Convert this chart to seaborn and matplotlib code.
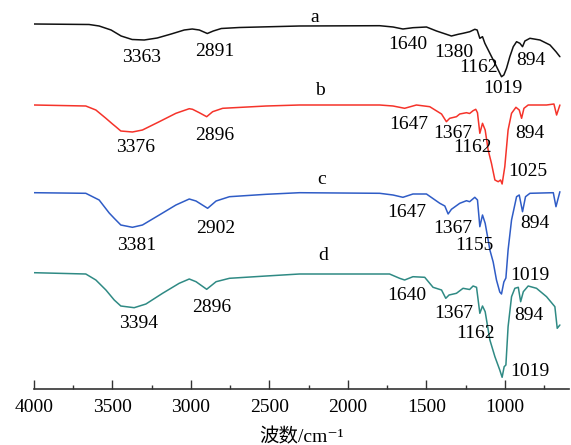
import numpy as np
import pandas as pd
import matplotlib
matplotlib.use("Agg")
import matplotlib.pyplot as plt
from matplotlib.ticker import MultipleLocator
import seaborn as sns

# wavenumber (cm-1) and stacked transmittance (a.u.)
wn_a = [4000, 3649, 3585, 3509, 3445, 3375, 3298, 3215, 3126, 3043, 2992, 2947, 2896, 2858, 2807, 2692, 2309,
        1798, 1713, 1650, 1586, 1500, 1436, 1373, 1341, 1298, 1267, 1224, 1192, 1177, 1160, 1143, 1128, 1096,
        1064, 1043, 1022, 1007, 990, 969, 947, 926, 905, 888, 873, 841, 777, 713, 675, 650]
t_a = [365, 364.5, 363, 359, 353, 349.5, 349, 351, 355, 359, 360, 359, 355.5, 358, 360.5, 361.5, 363,
       363.3, 362, 360, 361.3, 362, 358, 354.7, 353, 354.7, 355.7, 357.3, 359.7, 359, 350.7, 352.3, 345.7, 335.7,
       325.7, 319, 312.3, 314, 320.7, 332.3, 342.3, 347.3, 345.7, 342.3, 348, 350.7, 349, 344, 337.3, 332.3]

wn_b = [4000, 3670, 3606, 3542, 3500, 3479, 3447, 3373, 3309, 3202, 3096, 3011, 2990, 2947, 2900, 2862, 2798,
        2521, 2309, 1798, 1713, 1639, 1564, 1479, 1404, 1373, 1352, 1309, 1288, 1245, 1225, 1203, 1186, 1175, 1160,
        1143, 1126, 1107, 1086, 1064, 1043, 1028, 1018, 1001, 980, 958, 930, 909, 894, 879, 852, 735, 688, 671, 650]
t_b = [284, 283, 279, 270.7, 265, 262.3, 258, 257, 259, 267.3, 275.7, 280.3, 279.7, 276.3, 272.3, 277.3, 280.7,
       283, 284, 284, 283, 280.7, 284, 282.3, 275, 267.3, 270.7, 272.3, 275, 276.3, 275.5, 278.3, 279.7, 276.3, 255.7,
       265.7, 259, 239, 225.7, 209, 207.3, 209, 205, 222.3, 259, 275.7, 281.7, 279, 270.7, 280.7, 284, 284, 285, 274, 284]

wn_c = [4000, 3670, 3585, 3521, 3489, 3447, 3373, 3309, 3202, 3096, 3011, 2968, 2894, 2840, 2755, 2521, 2309,
        1798, 1713, 1650, 1586, 1500, 1415, 1383, 1362, 1341, 1288, 1245, 1225, 1192, 1175, 1160, 1143, 1126, 1107,
        1096, 1075, 1054, 1033, 1022, 1007, 994, 980, 958, 926, 909, 888, 869, 841, 692, 675, 650]
t_c = [196.3, 195.7, 189, 176, 170.7, 164, 161.7, 164, 174, 184, 190, 188, 180.7, 188, 192.3, 194.7, 196.3,
       195.7, 194, 191.7, 195, 195, 185.7, 183, 175, 179.7, 185.7, 188.3, 187.3, 191.7, 189, 162.3, 174, 165.7, 149,
       139, 127, 109, 97, 95, 107, 111, 139, 169, 192.3, 194, 177.3, 192.3, 195.7, 196.3, 182.3, 197.3]

wn_d = [4000, 3670, 3606, 3542, 3489, 3447, 3362, 3287, 3181, 3075, 3011, 2968, 2900, 2840, 2755, 2521, 2309,
        1735, 1671, 1639, 1586, 1511, 1458, 1404, 1377, 1356, 1309, 1267, 1225, 1203, 1181, 1160, 1143, 1126, 1096,
        1064, 1033, 1018, 1005, 994, 980, 958, 937, 915, 900, 883, 852, 799, 735, 682, 667, 650]
t_d = [116.3, 115, 109, 99, 89, 83, 81.3, 85, 95.7, 105.7, 110, 107.3, 99.7, 107.3, 110.7, 113, 115,
       115, 110.7, 109, 112.3, 111.7, 101.7, 99, 90.7, 94, 95.7, 100.7, 99.5, 103, 101.7, 75.7, 83, 77.3, 49,
       32.3, 19, 11.7, 22.3, 24, 62.3, 92.3, 100.7, 101.7, 87.3, 97.3, 103, 100.7, 92.3, 82.3, 60.7, 64]

samples = ["a", "b", "c", "d"]
colors = ["#111111", "#f5332a", "#2f5cc6", "#2f8a84"]

# sample letters: (wavenumber, y)
sample_pos = [(2210, 372), (2178, 299), (2166, 209), (2159, 134)]

# peak labels: (text, wavenumber, y)
peaks = [
    ("3363", 3318, 332), ("2891", 2847, 338), ("1640", 1621, 345), ("1380", 1325, 337),
    ("1162", 1166, 322), ("1019", 1013, 301), ("894", 834, 329),
    ("3376", 3350, 242), ("2896", 2847, 254), ("1647", 1611, 265), ("1367", 1334, 256),
    ("1162", 1207, 241), ("894", 841, 256), ("1025", 854, 217),
    ("3381", 3344, 144), ("2902", 2844, 161), ("1647", 1624, 177), ("1367", 1334, 161),
    ("1155", 1197, 144), ("894", 809, 166), ("1019", 841, 113),
    ("3394", 3331, 65), ("2896", 2868, 82), ("1640", 1624, 93), ("1367", 1325, 76),
    ("1162", 1185, 56), ("894", 847, 74), ("1019", 841, 17),
]

frames = []
for s, w, t in zip(samples, [wn_a, wn_b, wn_c, wn_d], [t_a, t_b, t_c, t_d]):
    frames.append(pd.DataFrame({"wn": w, "T": t, "sample": s}))
df = pd.concat(frames, ignore_index=True)

sns.set_style("white")
serif = ["Liberation Serif", "Noto Sans CJK SC", "DejaVu Sans"]
plt.rcParams["font.family"] = serif

fig = plt.figure(figsize=(5.71, 4.45), dpi=100)
ax = fig.add_axes([34 / 571, 56 / 445, 535 / 571, 389 / 445])

sns.lineplot(data=df, x="wn", y="T", hue="sample", palette=colors, estimator=None,
             sort=False, legend=False, linewidth=1.1, ax=ax)

for (s, (x, y)) in zip(samples, sample_pos):
    ax.text(x, y, s, fontsize=14, ha="center", va="center", color="black")
for txt, x, y in peaks:
    ax.text(x, y, txt, fontsize=14, ha="center", va="center", color="black")

ax.set_xlim(4000, 592)
ax.set_ylim(0, 389)
ax.set_yticks([])
ax.set_ylabel("")
ax.set_xlabel("波数/cm⁻¹", fontsize=14, labelpad=9, color="black")
ax.xaxis.set_major_locator(MultipleLocator(500))
ax.xaxis.set_minor_locator(MultipleLocator(250))
ax.tick_params(axis="x", which="major", direction="in", length=6.5, width=1.0,
               labelsize=14, pad=7, bottom=True, color="#333333", labelcolor="black")
ax.tick_params(axis="x", which="minor", direction="in", length=3.2, width=1.0,
               bottom=True, color="#333333")
for side in ["top", "right", "left"]:
    ax.spines[side].set_visible(False)
ax.spines["bottom"].set_linewidth(1.2)
ax.spines["bottom"].set_color("#333333")

fig.savefig("out.png", dpi=100)
